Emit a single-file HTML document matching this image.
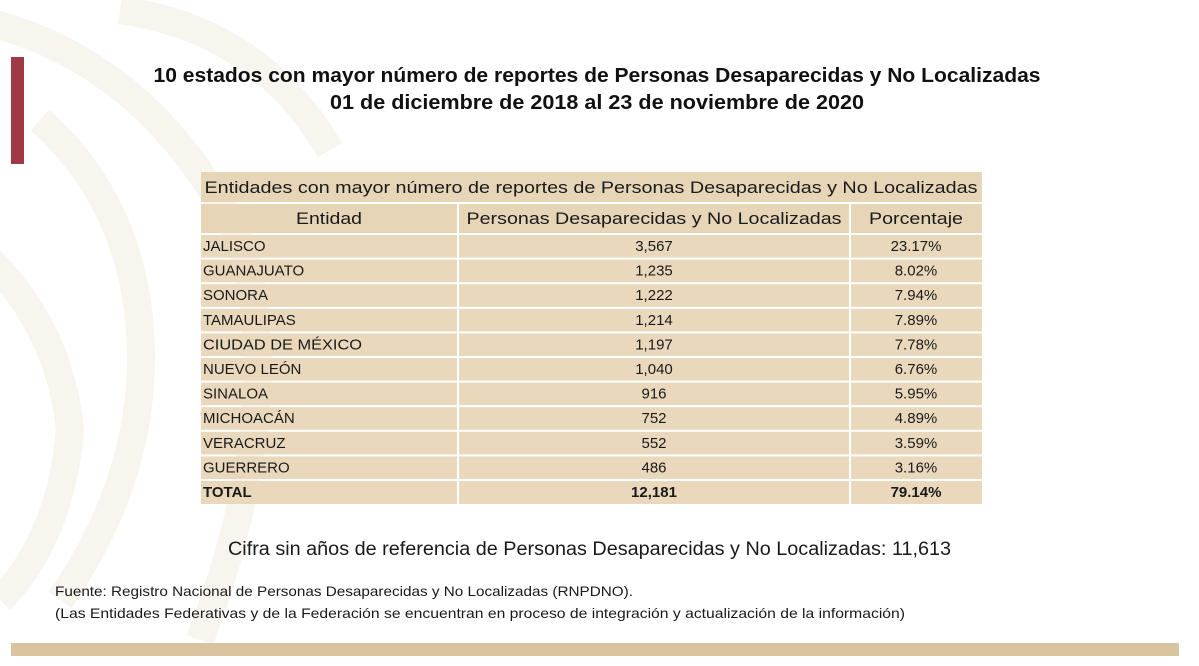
<!DOCTYPE html>
<html><head><meta charset="utf-8"><style>html,body{margin:0;padding:0;background:#fff;}svg{display:block}</style></head>
<body>
<svg width="1199" height="666" viewBox="0 0 1199 666" xmlns="http://www.w3.org/2000/svg" font-family="'Liberation Sans', sans-serif">
<rect x="0" y="0" width="1199" height="666" fill="#fff"/>
<g fill="none" stroke="#f8f5ee" stroke-width="28">
<path d="M-20 20 Q150 60 240 240 Q290 400 200 640"/>
<path d="M40 120 Q130 200 140 330 Q150 470 60 600"/>
<path d="M-10 260 Q60 330 70 430 Q60 540 0 600"/>
<path d="M120 10 Q260 30 330 150"/>
</g>
<rect x="11" y="57" width="13" height="107" fill="#9e3a47"/>
<rect x="11" y="643" width="1168" height="13" fill="#d8c49e"/>
<g font-weight="bold" font-size="20" fill="#111" text-anchor="middle">
<text x="597" y="82" textLength="887" lengthAdjust="spacingAndGlyphs">10 estados con mayor número de reportes de Personas Desaparecidas y No Localizadas</text>
<text x="597" y="109" textLength="534" lengthAdjust="spacingAndGlyphs">01 de diciembre de 2018 al 23 de noviembre de 2020</text>
</g>
<g fill="#e7d5b7">
<rect x="201" y="172" width="781" height="30"/>
<rect x="201" y="204" width="256" height="29"/><rect x="459" y="204" width="390" height="29"/><rect x="851" y="204" width="131" height="29"/>
</g>
<g fill="#e9d8bb">
<rect x="201" y="235" width="256" height="22.6"/><rect x="459" y="235" width="390" height="22.6"/><rect x="851" y="235" width="131" height="22.6"/>
<rect x="201" y="259.6" width="256" height="22.6"/><rect x="459" y="259.6" width="390" height="22.6"/><rect x="851" y="259.6" width="131" height="22.6"/>
<rect x="201" y="284.2" width="256" height="22.6"/><rect x="459" y="284.2" width="390" height="22.6"/><rect x="851" y="284.2" width="131" height="22.6"/>
<rect x="201" y="308.8" width="256" height="22.6"/><rect x="459" y="308.8" width="390" height="22.6"/><rect x="851" y="308.8" width="131" height="22.6"/>
<rect x="201" y="333.4" width="256" height="22.6"/><rect x="459" y="333.4" width="390" height="22.6"/><rect x="851" y="333.4" width="131" height="22.6"/>
<rect x="201" y="358" width="256" height="22.6"/><rect x="459" y="358" width="390" height="22.6"/><rect x="851" y="358" width="131" height="22.6"/>
<rect x="201" y="382.6" width="256" height="22.6"/><rect x="459" y="382.6" width="390" height="22.6"/><rect x="851" y="382.6" width="131" height="22.6"/>
<rect x="201" y="407.2" width="256" height="22.6"/><rect x="459" y="407.2" width="390" height="22.6"/><rect x="851" y="407.2" width="131" height="22.6"/>
<rect x="201" y="431.8" width="256" height="22.6"/><rect x="459" y="431.8" width="390" height="22.6"/><rect x="851" y="431.8" width="131" height="22.6"/>
<rect x="201" y="456.4" width="256" height="22.6"/><rect x="459" y="456.4" width="390" height="22.6"/><rect x="851" y="456.4" width="131" height="22.6"/>
<rect x="201" y="481" width="256" height="23"/><rect x="459" y="481" width="390" height="23"/><rect x="851" y="481" width="131" height="23"/>
</g>
<g fill="#1a1a1a" font-size="17">
<text x="591" y="193" text-anchor="middle" textLength="773" lengthAdjust="spacingAndGlyphs">Entidades con mayor número de reportes de Personas Desaparecidas y No Localizadas</text>
<text x="329" y="224" text-anchor="middle" textLength="66" lengthAdjust="spacingAndGlyphs">Entidad</text>
<text x="654" y="224" text-anchor="middle" textLength="375" lengthAdjust="spacingAndGlyphs">Personas Desaparecidas y No Localizadas</text>
<text x="916" y="224" text-anchor="middle" textLength="94" lengthAdjust="spacingAndGlyphs">Porcentaje</text>
</g>
<g fill="#1a1a1a" font-size="15">
<g text-anchor="start">
<text x="203" y="251">JALISCO</text>
<text x="203" y="275.6">GUANAJUATO</text>
<text x="203" y="300.2">SONORA</text>
<text x="203" y="324.8">TAMAULIPAS</text>
<text x="203" y="349.4" textLength="159" lengthAdjust="spacingAndGlyphs">CIUDAD DE MÉXICO</text>
<text x="203" y="374">NUEVO LEÓN</text>
<text x="203" y="398.6">SINALOA</text>
<text x="203" y="423.2">MICHOACÁN</text>
<text x="203" y="447.8">VERACRUZ</text>
<text x="203" y="472.4">GUERRERO</text>
<text x="203" y="497" font-weight="bold">TOTAL</text>
</g>
<g text-anchor="middle">
<text x="654" y="251">3,567</text><text x="916" y="251">23.17%</text>
<text x="654" y="275.6">1,235</text><text x="916" y="275.6">8.02%</text>
<text x="654" y="300.2">1,222</text><text x="916" y="300.2">7.94%</text>
<text x="654" y="324.8">1,214</text><text x="916" y="324.8">7.89%</text>
<text x="654" y="349.4">1,197</text><text x="916" y="349.4">7.78%</text>
<text x="654" y="374">1,040</text><text x="916" y="374">6.76%</text>
<text x="654" y="398.6">916</text><text x="916" y="398.6">5.95%</text>
<text x="654" y="423.2">752</text><text x="916" y="423.2">4.89%</text>
<text x="654" y="447.8">552</text><text x="916" y="447.8">3.59%</text>
<text x="654" y="472.4">486</text><text x="916" y="472.4">3.16%</text>
<text x="654" y="497" font-weight="bold">12,181</text><text x="916" y="497" font-weight="bold">79.14%</text>
</g>
</g>
<g fill="#1a1a1a">
<text x="228" y="555" font-size="19" textLength="723" lengthAdjust="spacingAndGlyphs">Cifra sin años de referencia de Personas Desaparecidas y No Localizadas: 11,613</text>
<text x="55" y="596" font-size="14" textLength="578" lengthAdjust="spacingAndGlyphs">Fuente: Registro Nacional de Personas Desaparecidas y No Localizadas (RNPDNO).</text>
<text x="55" y="618" font-size="14" textLength="850" lengthAdjust="spacingAndGlyphs">(Las Entidades Federativas y de la Federación se encuentran en proceso de integración y actualización de la información)</text>
</g>
</svg>
</body></html>
